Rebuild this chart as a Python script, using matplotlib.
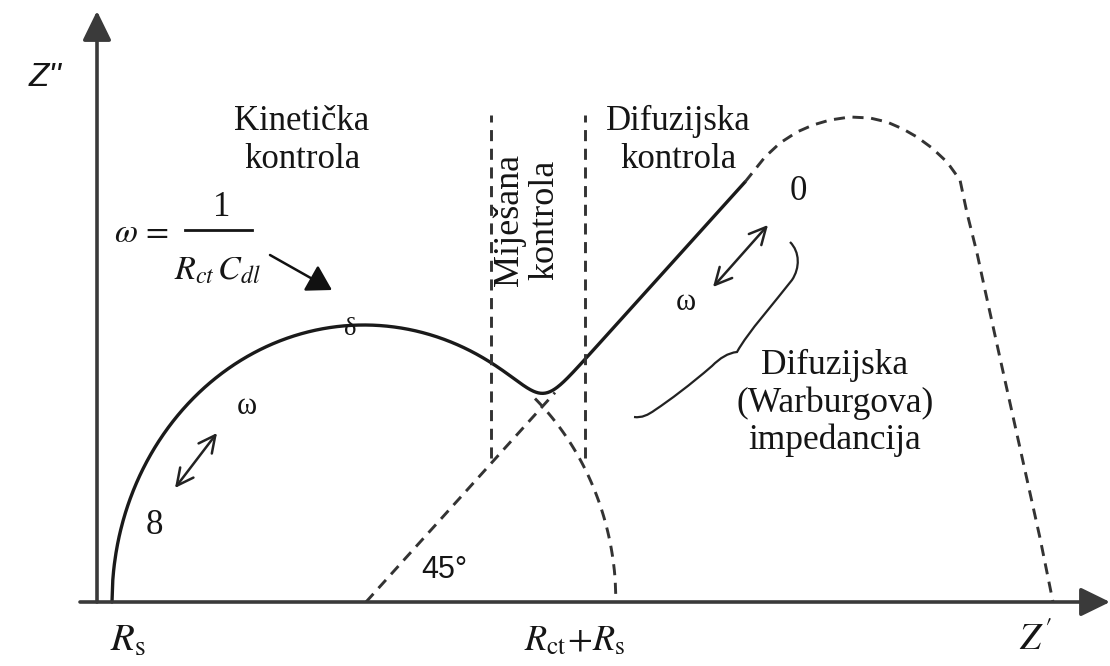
import numpy as np
import matplotlib
matplotlib.use("Agg")
import matplotlib.pyplot as plt
from matplotlib.path import Path
from matplotlib.patches import PathPatch

plt.rcParams['mathtext.fontset'] = 'stix'

# ---- schematic data (Z', Z'' in arbitrary units) ----
RS = 15.0                 # solution resistance
RCT = 504.0               # charge-transfer resistance
ARC_PEAK = 277.0          # height of the kinetic semicircle
W_X0 = 269.0              # x-intercept of the 45 deg Warburg line
W_END = (648.0, 420.0)    # end of the solid Warburg line
MIX_X = [394.0, 488.0]    # boundaries of the mixed-control region
MIX_Y = [144.0, 487.0]
# finite-diffusion (dashed) continuation
DIFF_X = [648, 656, 668, 683, 700, 716, 733, 753, 773, 790, 806, 820, 835,
          850, 863, 870, 880, 888, 903, 923, 943, 956]
DIFF_Y = [420, 430, 445, 459, 470, 477, 482, 485, 484, 480, 473, 465, 454,
          440, 422, 389, 349, 312, 244, 154, 64, 0]

INK = '#1a1a1a'
TXT = '#151515'
DASH = (0, (3.8, 2.6))

fig = plt.figure(figsize=(11.1, 6.66), dpi=100)
ax = fig.add_axes([0, 0, 1, 1])
ax.set_xlim(-97, 1013)
ax.set_ylim(-64, 602)
ax.axis('off')

# ---- axes with arrows ----
axis_kw = dict(arrowstyle='-|>,head_length=0.45,head_width=0.22',
               mutation_scale=40, lw=2.6, color='#3a3a3a', shrinkA=0, shrinkB=0)
ax.annotate('', xy=(1013, 0), xytext=(-17, 0), arrowprops=axis_kw)
ax.annotate('', xy=(0, 591), xytext=(0, 0), arrowprops=axis_kw)

# ---- kinetic semicircle + Warburg line (geometric construction) ----
cx = RS + RCT / 2.0
rx = RCT / 2.0
slope = W_END[1] / (W_END[0] - W_X0)

def arc_h(x):
    u = np.clip((x - cx) / rx, -1, 1)
    return ARC_PEAK * np.sqrt(1 - u ** 2)

def line_h(x):
    return np.clip(slope * (x - W_X0), 0, None)

x = np.linspace(RS, W_END[0], 800)
c = np.where(x <= RS + RCT, arc_h(x), 0.0)
l = line_h(x)
p = 10.7
h = (c ** p + l ** p) ** (1.0 / p)
ax.plot(x, h, color=INK, lw=2.4, solid_capstyle='round')

# dashed continuations
xd = np.linspace(438, RS + RCT, 100)
ax.plot(xd, arc_h(xd), color='#333', lw=2.1, linestyle=DASH)
xl = np.array([W_X0, 458.0])
ax.plot(xl, line_h(xl), color='#333', lw=2.1, linestyle=DASH)

# finite-length diffusion curve
ax.plot(DIFF_X, DIFF_Y, color='#333', lw=2.1, linestyle=DASH)

# mixed-control boundaries
for mx in MIX_X:
    ax.plot([mx, mx], MIX_Y, color='#333', lw=2.1, linestyle=DASH)

# ---- labels ----
serif = 'Liberation Serif'
ax.text(-52, 524, "Z''", fontsize=24, family='Liberation Sans', style='italic',
        ha='center', va='center', color=TXT)
ax.text(205, 462, 'Kinetička\nkontrola', fontsize=25, family=serif,
        ha='center', va='center', color=TXT)
ax.text(581, 462, 'Difuzijska\nkontrola', fontsize=25, family=serif,
        ha='center', va='center', color=TXT)
ax.text(430, 382, 'Miješana\nkontrola', fontsize=26, family=serif, rotation=90,
        ha='center', va='center', color=TXT, linespacing=1.1)
ax.text(701, 410, '0', fontsize=25, family=serif, ha='center', va='center', color=TXT)
ax.text(589, 299, 'ω', fontsize=22, family=serif, ha='center', va='center', color=TXT)
ax.text(150, 196, 'ω', fontsize=22, family=serif, ha='center', va='center', color=TXT)
ax.text(57, 76, '8', fontsize=25, family=serif, ha='center', va='center', color=TXT)
ax.text(253, 273, 'δ', fontsize=19, family=serif, ha='center', va='center', color=TXT)

# formula  omega = 1 / (R_ct C_dl)
ax.text(44, 370, r'$\omega\,=$', fontsize=24, ha='center', va='center', color=TXT)
ax.text(125, 395, '1', fontsize=25, family=serif, ha='center', va='center', color=TXT)
ax.plot([88, 155], [372, 372], color=TXT, lw=2.0)
ax.text(121, 332, r'$R_{ct}\,C_{dl}$', fontsize=24.5, ha='center', va='center', color=TXT)

ax.text(347, 32, '45°', fontsize=22, family='Liberation Sans',
        ha='center', va='center', color=TXT)
ax.text(738, 199, 'Difuzijska\n(Warburgova)\nimpedancija', fontsize=25.5, family=serif,
        ha='center', va='center', color=TXT, linespacing=1.15)
ax.text(31, -38, r'$R_\mathrm{s}$', fontsize=28, ha='center', va='center', color=TXT)
ax.text(478, -38, r'$R_\mathrm{ct}\!+\!R_\mathrm{s}$', fontsize=26,
        ha='center', va='center', color=TXT)
ax.text(938, -38, r"$Z'$", fontsize=27, ha='center', va='center', color=TXT)

# ---- arrows ----
dbl = dict(arrowstyle='<->,head_length=0.6,head_width=0.3', mutation_scale=20,
           lw=1.8, color='#222', shrinkA=0, shrinkB=0)
ax.annotate('', xy=(120, 169), xytext=(78, 114), arrowprops=dbl)
ax.annotate('', xy=(671, 377), xytext=(616, 315), arrowprops=dbl)
ax.annotate('', xy=(235, 312), xytext=(173, 347),
            arrowprops=dict(arrowstyle='-|>,head_length=0.5,head_width=0.3',
                            mutation_scale=30, lw=1.8, color='#111',
                            shrinkA=0, shrinkB=0))

# ---- curly brace ----
def d(px, py):
    return (px - 97, 602 - py)

verts = [d(790, 242), d(800, 252), d(800, 268), d(792, 280),
         d(775, 302), d(748, 332), d(737, 352),
         d(728, 353), d(720, 358), d(712, 366),
         d(690, 385), d(670, 400), d(655, 410),
         d(648, 415), d(642, 418), d(634, 417)]
codes = [Path.MOVETO] + [Path.CURVE4] * 15
ax.add_patch(PathPatch(Path(verts, codes), fill=False, lw=1.6, edgecolor='#222'))

fig.savefig('out.png', dpi=100)
